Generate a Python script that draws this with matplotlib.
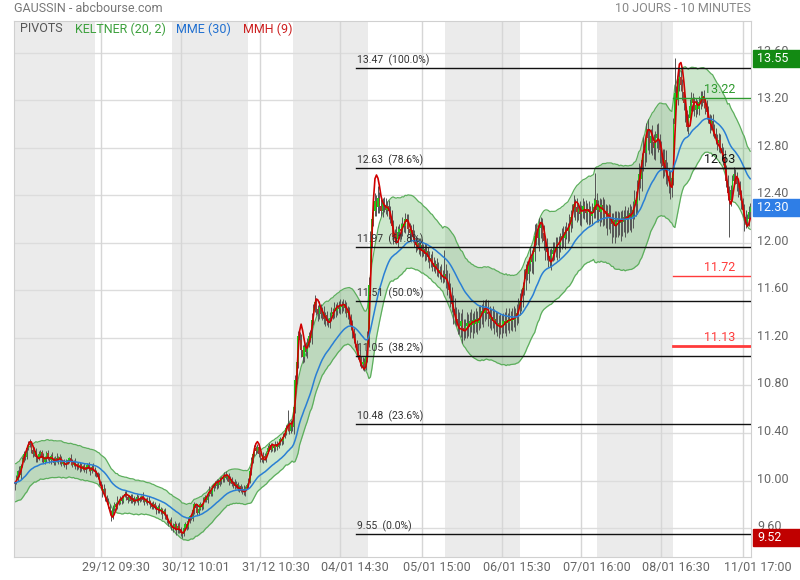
import numpy as np
import pandas as pd
import matplotlib
matplotlib.use("Agg")
import matplotlib.pyplot as plt
from matplotlib.patches import Rectangle
from matplotlib.transforms import blended_transform_factory, ScaledTranslation

plt.rcParams['font.family'] = ['Roboto', 'DejaVu Sans']

# ---- cours de cloture par jour (bougies de 10 minutes) ----
cl_2812 = [9.98, 10.02, 10.08, 10.05, 10.12, 10.18, 10.22, 10.20, 10.27, 10.31,
           10.30, 10.26, 10.22, 10.25, 10.20, 10.18, 10.22, 10.24, 10.19, 10.16,
           10.20, 10.23, 10.18, 10.17, 10.21, 10.18, 10.15, 10.19, 10.17, 10.20,
           10.18, 10.14, 10.16, 10.13, 10.15, 10.17, 10.19, 10.16, 10.13, 10.15,
           10.12, 10.14, 10.11, 10.13, 10.10, 10.12, 10.09, 10.11, 10.13, 10.10,
           10.08, 10.11, 10.09, 10.07]
cl_2912 = [10.06, 10.03, 9.98, 9.95, 9.90, 9.93, 9.86, 9.82, 9.78, 9.74,
           9.70, 9.76, 9.80, 9.78, 9.83, 9.81, 9.85, 9.83, 9.87, 9.89,
           9.86, 9.84, 9.87, 9.83, 9.85, 9.82, 9.84, 9.86, 9.83, 9.85,
           9.87, 9.84, 9.82, 9.84, 9.81, 9.83, 9.80, 9.78, 9.80, 9.77,
           9.75, 9.78, 9.74, 9.76, 9.72, 9.74, 9.70, 9.67, 9.64, 9.66,
           9.62]
cl_3012 = [9.60, 9.63, 9.58, 9.62, 9.59, 9.56, 9.55, 9.60, 9.63, 9.61,
           9.66, 9.70, 9.68, 9.75, 9.80, 9.77, 9.73, 9.76, 9.80, 9.78,
           9.83, 9.86, 9.84, 9.88, 9.92, 9.89, 9.94, 9.97, 9.95, 9.99,
           9.96, 10.00, 10.03, 10.01, 10.05, 10.02, 10.04, 9.99, 10.01, 9.97,
           9.99, 9.95, 9.97, 9.93, 9.95, 9.91, 9.93, 9.90, 9.94, 9.96]
cl_3112 = [10.00, 10.08, 10.17, 10.22, 10.27, 10.25, 10.28, 10.22, 10.19, 10.17,
           10.21, 10.19, 10.24, 10.27, 10.30, 10.26, 10.29, 10.27, 10.31, 10.28,
           10.32, 10.35, 10.33, 10.37, 10.40, 10.44, 10.47, 10.42, 10.48, 10.45]
cl_0401 = [10.62, 10.85, 11.00, 11.22, 11.18, 11.10, 11.04, 11.12, 11.08, 11.16,
           11.22, 11.20, 11.35, 11.45, 11.50, 11.44, 11.40, 11.46, 11.40, 11.42,
           11.36, 11.39, 11.34, 11.33, 11.37, 11.42, 11.40, 11.45, 11.43, 11.47,
           11.44, 11.48, 11.46, 11.49, 11.45, 11.41, 11.43, 11.36, 11.30, 11.25,
           11.20, 11.15, 11.10, 11.06, 11.02, 10.98, 11.00, 10.96, 11.05, 11.20]
cl_0501 = [11.65, 12.02, 12.20, 12.27, 12.35, 12.30, 12.38, 12.31, 12.27, 12.34,
           12.32, 12.28, 12.31, 12.27, 12.22, 12.14, 12.05, 12.08, 12.03, 12.09,
           12.12, 12.10, 12.16, 12.14, 12.20, 12.18, 12.12, 12.08, 12.11, 12.05,
           12.02, 11.98, 12.00, 11.96, 11.98, 11.93, 11.95, 11.91, 11.93, 11.88,
           11.85, 11.87, 11.83, 11.80, 11.82, 11.78, 11.75, 11.77, 11.73, 11.71,
           11.74]
cl_0601 = [11.70, 11.66, 11.60, 11.55, 11.49, 11.44, 11.40, 11.36, 11.33, 11.30,
           11.34, 11.28, 11.26, 11.30, 11.33, 11.29, 11.34, 11.31, 11.35, 11.32,
           11.36, 11.33, 11.37, 11.40, 11.43, 11.41, 11.45, 11.42, 11.40, 11.36,
           11.38, 11.34, 11.36, 11.32, 11.30, 11.33, 11.29, 11.31, 11.34, 11.32,
           11.35, 11.33, 11.36, 11.34, 11.37, 11.35, 11.38, 11.41, 11.45, 11.50]
cl_0701 = [11.55, 11.62, 11.70, 11.78, 11.74, 11.82, 11.88, 11.84, 11.92, 12.06,
           12.10, 12.04, 12.13, 12.16, 12.08, 12.02, 11.96, 11.92, 11.89, 11.87,
           11.91, 11.94, 11.97, 11.95, 12.00, 11.98, 12.03, 12.06, 12.04, 12.09,
           12.12, 12.10, 12.16, 12.22, 12.28, 12.33, 12.30, 12.26, 12.29, 12.24,
           12.27, 12.31, 12.28, 12.25, 12.29, 12.26, 12.23, 12.27, 12.30, 12.36,
           12.28]
cl_0801 = [12.30, 12.26, 12.32, 12.28, 12.24, 12.27, 12.22, 12.25, 12.20, 12.16,
           12.19, 12.14, 12.18, 12.21, 12.17, 12.20, 12.18, 12.22, 12.19, 12.23,
           12.21, 12.25, 12.22, 12.28, 12.36, 12.33, 12.47, 12.58, 12.54, 12.70,
           12.80, 12.76, 12.95, 12.88, 12.84, 12.90, 12.85, 12.80, 12.88, 12.92,
           12.86, 12.78, 12.72, 12.65, 12.70, 12.62, 12.56, 12.52, 12.48, 12.55]
cl_1101 = [13.00, 13.26, 13.20, 13.34, 13.40, 13.33, 13.27, 13.18, 13.07, 12.98,
           13.05, 13.15, 13.22, 13.18, 13.12, 13.16, 13.13, 13.19, 13.22, 13.24,
           13.18, 13.14, 13.10, 13.05, 13.00, 13.03, 12.96, 12.92, 12.88, 12.84,
           12.87, 12.80, 12.76, 12.72, 12.62, 12.52, 12.42, 12.36, 12.45, 12.52,
           12.58, 12.55, 12.50, 12.46, 12.40, 12.34, 12.28, 12.22, 12.18, 12.20,
           12.26, 12.30]
premiere_ouverture = 9.95

# meches hautes / basses en centimes
mh_2812 = [2,3,1,4,2,2,3,1,3,2, 4,2,1,3,2,1,3,2,2,4, 1,2,3,2,1,3,2,2,4,1, 2,3,1,2,3,2,1,3,2,2, 4,1,2,3,2,1,3,2,2,3, 1,2,4,2]
mb_2812 = [3,1,2,2,4,1,2,3,2,1, 2,3,2,1,4,2,1,2,3,1, 2,4,1,2,3,1,2,2,1,3, 4,2,1,2,3,1,2,3,2,1, 2,3,1,4,2,1,2,3,1,2, 3,2,1,3]
mh_2912 = [2,1,3,2,2,4,1,2,3,2, 1,3,2,2,4,1,2,3,1,2, 3,2,1,2,4,2,1,3,2,2, 1,3,2,1,2,4,1,2,3,2, 2,1,3,2,1,2,3,2,1,2, 3]
mb_2912 = [3,2,2,1,4,2,3,2,1,2, 4,2,1,3,2,2,1,3,2,1, 2,3,1,2,2,3,1,2,4,1, 2,2,3,1,2,1,3,2,2,1, 3,2,1,2,4,1,2,3,2,2, 4]
mh_3012 = [2,3,1,2,3,2,1,3,2,2, 3,1,2,4,2,1,3,2,2,1, 3,2,1,2,3,2,2,1,3,2, 2,3,1,2,2,3,1,2,3,2, 1,2,3,2,1,2,2,3,1,2]
mb_3012 = [3,2,4,2,3,3,3,2,1,3, 2,2,1,2,3,1,2,2,1,3, 2,1,2,3,1,2,2,3,1,2, 2,1,3,2,2,1,2,3,1,2, 3,2,1,2,3,1,2,2,3,1]
mh_3112 = [2,3,3,2,3,2,3,1,2,2, 3,2,1,3,2,2,3,1,2,2, 3,2,2,3,2,3,12,2,3,2]
mb_3112 = [2,2,3,2,1,3,2,2,3,1, 2,2,3,1,2,2,1,3,2,2, 1,2,3,2,1,2,2,3,2,3]
mh_0401 = [5,4,6,4,3,5,4,3,5,4, 3,5,6,4,6,3,4,5,3,4, 5,3,4,3,5,4,3,5,4,3, 4,5,3,4,3,5,4,3,4,5, 3,4,3,5,4,3,4,3,5,6]
mb_0401 = [6,5,4,5,4,6,5,4,3,5, 4,3,5,4,3,5,6,4,3,5, 4,6,3,4,5,3,4,3,5,4, 3,4,5,3,4,3,5,4,3,5, 4,3,5,4,6,3,5,4,3,5]
mh_0501 = [6,8,6,5,7,5,10,5,6,4, 5,6,4,5,4,6,5,4,6,5, 4,5,6,4,5,4,6,5,4,5, 6,4,5,4,6,5,4,5,6,4, 5,4,6,5,4,5,6,4,5,4, 20]
mb_0501 = [8,6,5,6,4,7,5,6,4,5, 6,4,5,7,5,4,6,5,4,6, 5,7,4,5,6,4,5,6,7,4, 5,6,4,5,7,5,4,6,5,4, 6,5,7,4,5,6,4,5,6,5, 4]
mh_0601 = [8,7,9,6,8,7,10,6,8,9, 7,10,8,6,9,7,8,10,6,8, 9,7,10,8,6,9,7,8,10,7, 6,9,8,7,10,6,8,9,7,8, 10,6,9,7,8,10,7,8,9,8]
mb_0601 = [8,10,6,9,7,12,8,6,10,7, 9,12,8,6,10,7,9,6,11,8, 7,10,6,9,8,12,7,6,10,8, 9,6,11,7,8,10,6,9,7,8, 10,6,9,7,8,6,9,7,8,6]
mh_0701 = [6,5,8,4,7,5,9,6,5,10, 7,5,8,6,5,7,4,8,5,6, 5,7,4,8,5,6,5,7,8,5, 6,5,8,6,5,7,4,8,5,6, 5,7,4,8,5,6,5,7,8,23, 6]
mb_0701 = [7,9,6,10,5,8,6,9,10,7, 8,6,11,9,7,8,10,6,9,7, 10,6,8,7,9,11,6,8,7,9, 6,10,8,7,9,6,11,8,7,9, 10,6,8,7,9,11,7,8,6,9, 10]
mh_0801 = [6,8,5,7,9,6,5,8,7,5, 6,8,9,6,5,7,8,6,9,5, 7,8,6,7,9,8,6,9,7,6, 9,8,6,9,8,6,9,7,6,8, 9,6,8,7,9,8,6,7,9,8]
mb_0801 = [10,12,8,14,9,11,15,10,12,16, 11,14,9,13,10,15,12,9,14,11, 12,10,13,9,8,10,9,11,8,10, 9,11,8,10,9,8,11,9,10,8, 9,11,8,10,9,12,8,10,11,9]
mh_1101 = [5,30,6,5,8,6,5,4,6,5, 4,6,5,4,5,6,4,5,6,4, 5,4,6,5,4,5,6,4,5,4, 6,5,4,5,6,4,5,6,4,5, 6,4,5,4,6,5,4,5,6,4, 5,4]
mb_1101 = [6,5,7,4,6,5,7,6,5,4, 6,5,4,7,5,6,4,5,6,7, 4,5,6,4,7,5,6,4,5,6, 7,4,5,6,4,5,6,31,5,6, 4,5,6,7,4,5,6,12,5,4, 6,5]

jours_cl = [cl_2812, cl_2912, cl_3012, cl_3112, cl_0401, cl_0501, cl_0601, cl_0701, cl_0801, cl_1101]
jours_mh = [mh_2812, mh_2912, mh_3012, mh_3112, mh_0401, mh_0501, mh_0601, mh_0701, mh_0801, mh_1101]
jours_mb = [mb_2812, mb_2912, mb_3012, mb_3112, mb_0401, mb_0501, mb_0601, mb_0701, mb_0801, mb_1101]

# axe des temps
pos_ticks = [57, 110, 163, 216, 270, 323, 376, 429, 483]
lab_ticks = ['29/12 09:30', '30/12 10:01', '31/12 10:30', '04/01 14:30', '05/01 15:00',
             '06/01 15:30', '07/01 16:00', '08/01 16:30', '11/01 17:00']

# niveaux de Fibonacci et pivots
fib_niveaux = [13.47, 12.63, 11.97, 11.51, 11.05, 10.48, 9.55]
fib_pct = ['100.0%', '78.6%', '61.8%', '50.0%', '38.2%', '23.6%', '0.0%']
fib_debut = 227
piv_niveaux = [13.22, 12.63, 11.72, 11.13]
piv_couleurs = ['#2e9a2e', '#111111', '#ff3b3b', '#ff3b3b']
piv_epaisseur = [1.0, 1.0, 1.0, 2.0]

plus_haut, dernier, plus_bas = 13.55, 12.30, 9.52

# ---- construction OHLC ----
cloture = np.concatenate([np.array(c, float) for c in jours_cl])
m_haut = np.concatenate([np.array(m, float) for m in jours_mh]) / 100
m_bas = np.concatenate([np.array(m, float) for m in jours_mb]) / 100
ouverture = np.r_[premiere_ouverture, cloture[:-1]]
haut = np.maximum(ouverture, cloture) + m_haut
bas = np.minimum(ouverture, cloture) - m_bas
N = len(cloture)
x = np.arange(N)

# ---- indicateurs ----
s = pd.Series(cloture)
mme30 = s.ewm(span=30, adjust=False).mean()
centre = s.ewm(span=20, adjust=False).mean()
prec = np.r_[premiere_ouverture, cloture[:-1]]
tr = np.maximum(haut - bas, np.maximum(np.abs(haut - prec), np.abs(bas - prec)))
atr = pd.Series(tr).ewm(span=20, adjust=False).mean()
k_haut = centre + 2 * atr
k_bas = centre - 2 * atr


def wma(serie, n):
    w = np.arange(1, n + 1, dtype=float)
    return serie.rolling(n, min_periods=1).apply(
        lambda a: np.dot(a, w[-len(a):]) / w[-len(a):].sum(), raw=True)


mmh9 = wma(2 * wma(s, 4) - wma(s, 9), 3)

# ---- figure ----
fig = plt.figure(figsize=(8, 5.8), dpi=100)
ax = fig.add_axes([14 / 800, 23 / 580, 737 / 800, 536 / 580])
ax.set_xlim(-0.5, N - 0.5)
ax.set_ylim(9.356, 13.869)

# bandes des jours
debut = 0
for k, c in enumerate(jours_cl):
    if k % 2 == 0:
        ax.axvspan(debut - 0.5, debut + len(c) - 0.5, color='#ebebeb', lw=0, zorder=0)
    debut += len(c)
debut_dernier = N - len(jours_cl[-1])

# grille
for yv in np.arange(9.6, 13.61, 0.4):
    ax.axhline(yv, color='#dcdcdc', lw=1, zorder=0.5)
for xv in pos_ticks:
    ax.axvline(xv, color='#d6d6d6', lw=1, zorder=0.5)

# Keltner
ax.fill_between(x, k_bas, k_haut, color='#2e9e2e', alpha=0.24, lw=0, zorder=1)
ax.plot(x, k_haut, color='#5cae5c', lw=0.9, zorder=1.2)
ax.plot(x, k_bas, color='#5cae5c', lw=0.9, zorder=1.2)

# bougies
ax.vlines(x, bas, haut, color='#555555', lw=0.7, zorder=2)
hausse = cloture >= ouverture
corps = np.maximum(np.abs(cloture - ouverture), 0.006)
ax.bar(x, corps, bottom=np.minimum(ouverture, cloture), width=0.85,
       color=np.where(hausse, '#1ec81e', '#a8372c'), lw=0, zorder=2.5)

# moyennes
ax.plot(x, mmh9, color='#d00000', lw=1.2, zorder=3)
ax.plot(x, mme30, color='#2a7fd4', lw=1.1, zorder=3.2)

# Fibonacci
for niv, pct in zip(fib_niveaux, fib_pct):
    ax.plot([fib_debut - 0.5, N - 0.5], [niv, niv], color='#111111', lw=1, zorder=4)
    ax.annotate(f'{niv:.2f}  ({pct})', (fib_debut + 0.3, niv), xytext=(0, 2),
                textcoords='offset pixels', ha='left', va='bottom',
                fontsize=7.5, color='#333333', zorder=5)

# pivots
for niv, col, ep in zip(piv_niveaux, piv_couleurs, piv_epaisseur):
    ax.plot([debut_dernier - 0.5, N - 0.5], [niv, niv], color=col, lw=ep, zorder=4)
    ax.annotate(f'{niv:.2f}', (478, niv), xytext=(0, 2), textcoords='offset pixels',
                ha='right', va='bottom', fontsize=9, color=col, zorder=5)

# axes
for sp in ax.spines.values():
    sp.set_color('#d0d0d0')
ax.yaxis.tick_right()
ax.set_yticks(np.arange(9.6, 13.61, 0.4))
ax.set_yticklabels([f'{v:.2f}' for v in np.arange(9.6, 13.61, 0.4)])
ax.tick_params(axis='y', length=0, pad=4.3, labelsize=9, labelcolor='#666666')
for lab in ax.get_yticklabels():
    lab.set_transform(lab.get_transform() + ScaledTranslation(0, 3 / 100, fig.dpi_scale_trans))
ax.set_xticks(pos_ticks)
ax.set_xticklabels([])
ax.tick_params(axis='x', length=0)
for p, lab in zip(pos_ticks, lab_ticks):
    ax.annotate(lab, (p, 0), xycoords=('data', 'axes fraction'), xytext=(15, -11),
                textcoords='offset pixels', ha='center', va='center',
                fontsize=9, color='#666666', annotation_clip=False)

# etiquettes de prix a droite
tr_box = blended_transform_factory(fig.transFigure, ax.transData)
for val, col in [(plus_haut, '#138a13'), (dernier, '#2f7ee6'), (plus_bas, '#c00000')]:
    ax.add_patch(Rectangle((753 / 800, val - 0.072), 47 / 800, 0.144, transform=tr_box,
                           color=col, clip_on=False, zorder=6))
    ax.text(757 / 800, val, f'{val:.2f}', transform=tr_box, ha='left', va='center',
            fontsize=9, color='white', zorder=7, clip_on=False)

# titres et legende
fig.text(14 / 800, 1 - 9 / 580, 'GAUSSIN - abcbourse.com', ha='left', va='center',
         fontsize=9, color='#777777')
fig.text(751 / 800, 1 - 9 / 580, '10 JOURS - 10 MINUTES', ha='right', va='center',
         fontsize=9, color='#888888')
for xt, txt, col in [(20, 'PIVOTS', '#555555'), (75, 'KELTNER (20, 2)', '#3ca03c'),
                     (176, 'MME (30)', '#1f6fd0'), (243, 'MMH (9)', '#cc2020')]:
    fig.text(xt / 800, 1 - 29 / 580, txt, ha='left', va='center', fontsize=9, color=col)

fig.savefig('out.png', dpi=100)
